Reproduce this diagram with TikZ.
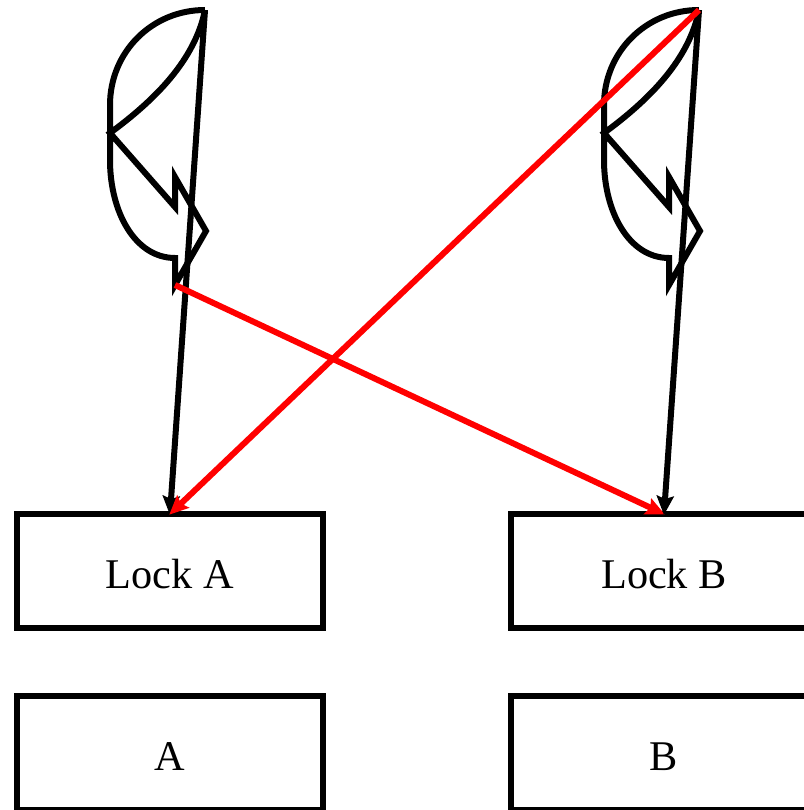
\documentclass[tikz,border=0pt]{standalone}
\usepackage{fontspec}
\setmainfont{Liberation Serif}
\usetikzlibrary{arrows.meta,positioning}

\begin{document}
\begin{tikzpicture}[
        x=1pt, y=-1pt, font=\fontsize{42.3}{50}\selectfont,
        lockbox/.style={rectangle, draw, line width=6pt, outer sep=0pt, minimum width=306pt, minimum height=114pt, align=center, text height=34pt, text depth=0pt},
        thread/.style={draw, line width=6pt, miter limit=20},
        grab/.style={-{Stealth[length=19pt, width=17pt, inset=3pt]}, line width=6pt, shorten >=-1pt},
        wrong/.style={grab, red}
    ]
        \useasboundingbox (0,0) rectangle (803,810);
        \node[lockbox] (locka) at (170,571) {Lock A};
        \node[lockbox, right=188pt of locka] (lockb) {Lock B};
        \node[lockbox, below=68pt of locka] (a) {A};
        \node[lockbox, below=68pt of lockb] (b) {B};
        \foreach \name/\shift in {a/0,b/494} {
            \begin{scope}[xshift=\shift]
                \coordinate (top\name) at (205,10);
                \coordinate (tail\name) at (175,285);
                \path[thread] (top\name) .. controls (152,10) and (110,52) .. (110,105)
                    -- (110,160) .. controls (110,212) and (135,258) .. (175,258)
                    -- (tail\name) -- (206,231) -- (175,177) -- (175,207) -- (110,133)
                    .. controls (155,100) and (195,60) .. (top\name);
            \end{scope}
        }
        \draw[grab] (topa) -- (locka.north);
        \draw[wrong] (taila) -- (lockb.north);
        \draw[grab] (topb) -- (lockb.north);
        \draw[wrong] (topb) -- (locka.north);
    \end{tikzpicture}
\end{document}
